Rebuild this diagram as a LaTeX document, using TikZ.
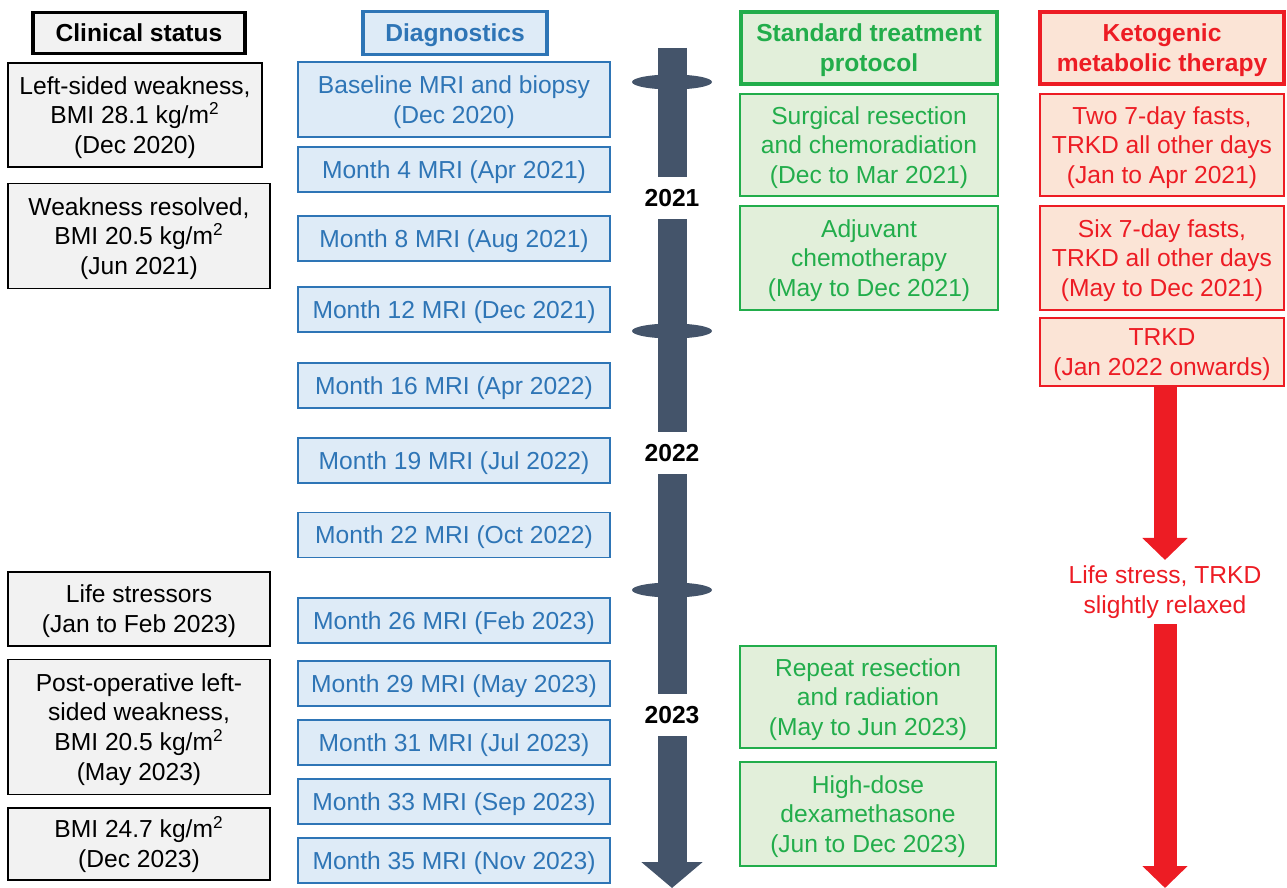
\documentclass[tikz,border=0pt]{standalone}
\usepackage{fontspec}
\setmainfont{Liberation Sans}
\usetikzlibrary{arrows.meta}

\definecolor{clinfill}{HTML}{F2F2F2}
\definecolor{diagblue}{HTML}{2E75B6}
\definecolor{diagfill}{HTML}{DEEBF7}
\definecolor{stdgreen}{HTML}{22AD4B}
\definecolor{stdfill}{HTML}{E2EFDA}
\definecolor{ketored}{HTML}{ED1C24}
\definecolor{ketofill}{HTML}{FBE4D6}
\definecolor{tlgray}{HTML}{44546A}

\newcommand{\sqm}{kg/m\smash{\textsuperscript{2}}}

\begin{document}
\begin{tikzpicture}[
  x=0.02cm, y=-0.02cm,
  font=\fontsize{14}{17}\selectfont,
  every node/.style={align=center},
  sz/.style 2 args={minimum width=#1*0.02cm, minimum height=#2*0.02cm},
  box/.style ={rectangle, line width=1.1pt, inner sep=2pt, text depth=0pt},
  clin/.style={box, draw=black, fill=clinfill, text=black},
  diag/.style={box, draw=diagblue, fill=diagfill, text=diagblue},
  std/.style ={box, draw=stdgreen, fill=stdfill, text=stdgreen},
  keto/.style={box, draw=ketored, fill=ketofill, text=ketored},
  hdr/.style ={line width=1.8pt, font=\fontsize{14}{17}\selectfont\bfseries},
  yearlbl/.style={font=\fontsize{14}{17}\selectfont\bfseries, minimum height=0.84cm, inner sep=0pt},
  tline/.style={draw=tlgray, line width=0.58cm},
  karrow/.style={draw=ketored, line width=0.46cm, -{Triangle[width=0.88cm,length=0.44cm]}},
]
\useasboundingbox (0,0) rectangle (1287,888);

% -------- clinical status -------------------------------------------------
\node[clin, hdr, sz={212}{41}] (chead) at (139,33) {Clinical status};
\node[clin, sz={254}{104}] (c1) at (135,115) {Left-sided weakness,\\BMI 28.1 \sqm\\(Dec 2020)};
\node[clin, sz={262}{105}] (c2) at (139,236) {Weakness resolved,\\BMI 20.5 \sqm\\(Jun 2021)};
\node[clin, sz={262}{74}]  (c3) at (139,609) {Life stressors\\(Jan to Feb 2023)};
\node[clin, sz={262}{135}] (c4) at (139,727) {Post-operative left-\\sided weakness,\\BMI 20.5 \sqm\\(May 2023)};
\node[clin, sz={262}{72}]  (c5) at (139,844) {BMI 24.7 \sqm\\(Dec 2023)};

% -------- diagnostics -----------------------------------------------------
\node[diag, hdr, sz={184}{43}] (dhead) at (455,33) {Diagnostics};
\node[diag, sz={312}{75}] (d0) at (454,99.5) {Baseline MRI and biopsy\\(Dec 2020)};
\foreach \m/\txt/\y in {4/Apr 2021/169.5, 8/Aug 2021/238.5, 12/Dec 2021/309.5,
                        16/Apr 2022/385.5, 19/Jul 2022/460.5, 22/Oct 2022/535,
                        26/Feb 2023/620.5, 29/May 2023/683.5, 31/Jul 2023/742.5,
                        33/Sep 2023/801.5, 35/Nov 2023/860.5}
  \node[diag, sz={312}{45}] (d\m) at (454,\y) {Month \m\ MRI (\txt)};

% -------- timeline --------------------------------------------------------
\coordinate (tl0) at (672,48);
\node[yearlbl] (y21) at (672,198) {2021};
\node[yearlbl] (y22) at (672,453) {2022};
\node[yearlbl] (y23) at (672,715) {2023};
\coordinate (tlend) at (672,888);

\draw[tline] (tl0) -- (y21.north);
\draw[tline] (y21.south) -- (y22.north);
\draw[tline] (y22.south) -- (y23.north);
\draw[tline, -{Triangle[width=1.2cm,length=0.52cm]}] (y23.south) -- (tlend);

\foreach \y in {82,331,590}
  \fill[tlgray] (672,\y) ellipse [x radius=0.8cm, y radius=0.15cm];

% -------- standard treatment ----------------------------------------------
\node[std, hdr, sz={256}{72}] (shead) at (869,48) {Standard treatment\\protocol};
\node[std, sz={258}{102}] (s1) at (869,145) {Surgical resection\\and chemoradiation\\(Dec to Mar 2021)};
\node[std, sz={258}{104}] (s2) at (869,258) {Adjuvant\\chemotherapy\\(May to Dec 2021)};
\node[std, sz={256}{102}] (s3) at (868,697) {Repeat resection\\and radiation\\(May to Jun 2023)};
\node[std, sz={256}{104}] (s4) at (868,814) {High-dose\\dexamethasone\\(Jun to Dec 2023)};

% -------- ketogenic metabolic therapy -------------------------------------
\node[keto, hdr, sz={244}{72}] (khead) at (1162,48) {Ketogenic\\metabolic therapy};
\node[keto, sz={244}{102}] (k1) at (1162,145) {Two 7-day fasts,\\TRKD all other days\\(Jan to Apr 2021)};
\node[keto, sz={244}{104}] (k2) at (1162,258) {Six 7-day fasts,\\TRKD all other days\\(May to Dec 2021)};
\node[keto, sz={244}{68}]  (k3) at (1162,352) {TRKD\\(Jan 2022 onwards)};

\node[text=ketored, inner sep=3pt] (stress) at (1165,592) {Life stress, TRKD\\slightly relaxed};
\coordinate (kend) at (1165,888);

\draw[karrow] (k3.south -| stress) -- (stress.north);
\draw[karrow] (stress.south) -- (kend);

\end{tikzpicture}
\end{document}
